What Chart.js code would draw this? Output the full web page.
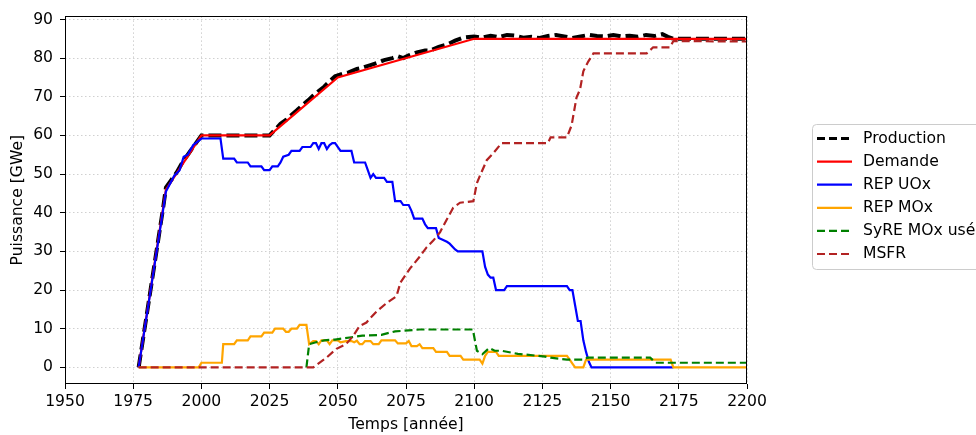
<!DOCTYPE html>
<html>
<head>
<meta charset="utf-8">
<script src="https://cdn.jsdelivr.net/npm/chart.js@4.4.1/dist/chart.umd.min.js"></script>
<style>
  body { margin: 0; background: #fff; }
  canvas { display: block; }
</style>
</head>
<body>
<canvas id="chart" width="976" height="435"></canvas>
<script>
// tick labels
const xTicks = [1950, 1975, 2000, 2025, 2050, 2075, 2100, 2125, 2150, 2175, 2200];
const yTicks = [0, 10, 20, 30, 40, 50, 60, 70, 80, 90];

// Production (black dashed)
const prodYears = [1977, 1979, 1981, 1983, 1985, 1986, 1987, 1989, 1991, 1993, 1995, 1997, 2000, 2025,
  2027, 2029, 2031, 2033, 2035, 2037, 2039, 2041, 2043, 2045, 2047, 2049, 2052, 2054, 2057, 2059, 2062,
  2065, 2067, 2070, 2072, 2074, 2076, 2079, 2082, 2084, 2087, 2090, 2093, 2096, 2100, 2103, 2106, 2109,
  2112, 2115, 2118, 2121, 2124, 2127, 2130, 2133, 2136, 2139, 2142, 2145, 2148, 2151, 2154, 2157, 2160,
  2163, 2166, 2169, 2171, 2173, 2200];
const prodValues = [0, 9.2, 18.4, 27.6, 36.8, 41.4, 46.5, 48.5, 50.5, 53, 55, 57, 60, 60,
  61.5, 63, 64, 65.3, 66.5, 67.8, 69, 70.3, 71.5, 72.6, 74, 75.3, 76, 76.3, 77.2, 77.5, 78.2,
  78.9, 79.5, 80, 80.5, 80, 80.7, 81.5, 82, 82, 82.9, 83.5, 84.5, 85.3, 85.6, 85.3, 85.8, 85.4,
  86, 85.8, 85.3, 85.5, 85.2, 85.7, 86, 85.6, 85.2, 85.6, 86, 85.7, 85.6, 86, 85.6, 85.8, 85.5,
  86, 85.7, 86.2, 85.5, 85, 85];

// Demande (red)
const demYears = [1977, 1987, 2000, 2025, 2050, 2100, 2200];
const demValues = [0, 46, 60, 60, 75, 85, 85];

// REP UOx (blue)
const uoxYears = [1977, 1987, 1990, 1992, 1993.5, 1995, 1997, 2000, 2007, 2008, 2012, 2013, 2017, 2018,
  2022, 2023, 2025, 2026, 2028, 2029, 2030, 2032, 2033, 2036, 2037, 2040, 2041, 2042, 2043, 2044, 2045,
  2046, 2047, 2048, 2049, 2051, 2055, 2056, 2060, 2061, 2062, 2063, 2064, 2067, 2068, 2070, 2071, 2073,
  2074, 2076, 2077, 2078, 2081, 2082, 2083, 2086, 2087, 2090, 2091, 2093, 2094, 2103, 2104, 2105, 2106,
  2107, 2108, 2111, 2112, 2134, 2135, 2136, 2137, 2138, 2139, 2140, 2141, 2142, 2143, 2173];
const uoxValues = [0, 45.5, 49.5, 51, 54.5, 55, 57.5, 59.2, 59.2, 54, 54, 53, 53, 52,
  52, 51, 51, 52, 52, 53, 54.5, 55, 56, 56, 57, 57, 58, 58, 56.5, 58, 58,
  56.5, 57.5, 58, 58, 56, 56, 53, 53, 51, 49, 50, 49, 49, 48, 48, 43, 43,
  42, 42, 40.5, 38.5, 38.5, 37, 36, 36, 33.5, 32.5, 32, 30.5, 30, 30, 26, 24, 23.2,
  23.2, 20, 20, 21, 21, 20, 20, 16, 12, 12, 7, 4, 1.5, 0, 0];

// REP MOx (orange)
const moxYears = [1977, 1999, 2000, 2007.5, 2008, 2012, 2013, 2017, 2018, 2022, 2023, 2026, 2027, 2030,
  2031, 2032, 2033, 2035, 2036, 2038.5, 2039.5, 2041, 2042, 2043, 2044, 2046, 2047, 2048, 2050, 2051,
  2053, 2055, 2056, 2057, 2058, 2059, 2060, 2062, 2063, 2065, 2066, 2071, 2072, 2075, 2076, 2077, 2079,
  2080, 2081, 2085, 2086, 2090, 2091, 2095, 2096, 2102, 2103, 2104, 2105, 2108, 2109, 2134, 2135, 2136,
  2137, 2140, 2141, 2172, 2173, 2200];
const moxValues = [0, 0, 1.2, 1.2, 6, 6, 7, 7, 8, 8, 9, 9, 10, 10,
  9.2, 9.2, 10, 10, 11, 11, 6, 6.8, 6.8, 6, 7, 7, 6, 7, 7, 6.5,
  6.8, 6.8, 6.5, 6.9, 6, 6, 6.8, 6.8, 6, 6, 7, 7, 6.2, 6.2, 6.8, 5.5, 5.5,
  6, 5, 5, 4, 4, 3, 3, 2, 2, 1, 3, 4, 4, 3, 3, 2, 1,
  0, 0, 2, 2, 0, 0];

// SyRE MOx usé (green dashed)
const syreYears = [2038.5, 2039.5, 2042, 2045, 2049, 2052, 2055, 2059, 2066, 2068, 2071, 2080, 2099.5,
  2101, 2103, 2105.5, 2107.5, 2110, 2116, 2126, 2128, 2134, 2140, 2141.5, 2164.5, 2166.5, 2200];
const syreValues = [0, 6, 6.5, 7, 7.2, 7.5, 7.8, 8.2, 8.4, 8.8, 9.3, 9.8, 9.8,
  4.3, 3.4, 5, 4.3, 4.3, 3.5, 2.8, 2.5, 2, 2, 2.5, 2.5, 1.2, 1.2];

// MSFR (brown dashed)
const msfrYears = [1977, 2041, 2042, 2046, 2049.5, 2053, 2055.5, 2058, 2060.5, 2062, 2064.3, 2068, 2071.5,
  2073, 2076.5, 2080, 2082.6, 2085, 2087.5, 2090, 2092.3, 2094.8, 2099.7, 2101, 2102, 2104.6, 2107, 2110,
  2127, 2128, 2134, 2135.7, 2137.5, 2138.8, 2140, 2141.8, 2143.7, 2163.2, 2165.6, 2171.8, 2173, 2200];
const msfrValues = [0, 0, 0.5, 2.6, 4.8, 6, 8, 10.7, 11.6, 12.8, 14.5, 16.7, 18.4,
  22, 25.6, 28.6, 31.1, 32.8, 35, 38.3, 41.3, 42.6, 43, 47.7, 49.4, 53.6, 55.4, 58,
  58, 59.5, 59.5, 62.6, 69.8, 71.9, 76.6, 79.1, 81.2, 81.2, 82.8, 82.8, 84.4, 84.3];

const pts = (xs, ys) => xs.map((x, i) => ({ x: x, y: ys[i] }));

const series = [
  { label: 'Production', xs: prodYears, ys: prodValues, color: '#000000', width: 4, dash: [13, 5], legendWidth: 3, legendDash: [8, 4] },
  { label: 'Demande', xs: demYears, ys: demValues, color: '#ff0000', width: 2.2, dash: [] },
  { label: 'REP UOx', xs: uoxYears, ys: uoxValues, color: '#0000ff', width: 2.2, dash: [] },
  { label: 'REP MOx', xs: moxYears, ys: moxValues, color: '#ffa500', width: 2.2, dash: [] },
  { label: 'SyRE MOx usé', xs: syreYears, ys: syreValues, color: '#008000', width: 2.2, dash: [8, 4] },
  { label: 'MSFR', xs: msfrYears, ys: msfrValues, color: '#b22222', width: 2.2, dash: [8, 4] },
];

const FONT_SIZE = 15.6;

// box around the plot
const framePlugin = {
  id: 'frame',
  afterDatasetsDraw(chart) {
    const { ctx, chartArea: a } = chart;
    ctx.save();
    ctx.strokeStyle = '#000';
    ctx.lineWidth = 1;
    ctx.strokeRect(Math.round(a.left) + 0.5, Math.round(a.top) + 0.5,
      Math.round(a.right - a.left) - 1, Math.round(a.bottom - a.top) - 1);
    ctx.restore();
  }
};

// matplotlib-like legend outside the axes
const legendPlugin = {
  id: 'mplLegend',
  afterDraw(chart) {
    const ctx = chart.ctx;
    const left = 812.5, top = 124.5, w = 180, h = 145, r = 4;
    ctx.save();
    ctx.beginPath();
    ctx.moveTo(left + r, top);
    ctx.lineTo(left + w - r, top);
    ctx.arcTo(left + w, top, left + w, top + r, r);
    ctx.lineTo(left + w, top + h - r);
    ctx.arcTo(left + w, top + h, left + w - r, top + h, r);
    ctx.lineTo(left + r, top + h);
    ctx.arcTo(left, top + h, left, top + h - r, r);
    ctx.lineTo(left, top + r);
    ctx.arcTo(left, top, left + r, top, r);
    ctx.closePath();
    ctx.fillStyle = 'rgba(255,255,255,0.8)';
    ctx.fill();
    ctx.strokeStyle = '#cccccc';
    ctx.lineWidth = 1;
    ctx.stroke();

    ctx.font = FONT_SIZE + 'px "DejaVu Sans"';
    ctx.textBaseline = 'middle';
    ctx.fillStyle = '#000';
    series.forEach((s, i) => {
      const y = 138.5 + i * 23.1;
      ctx.beginPath();
      ctx.setLineDash(s.legendDash || s.dash);
      ctx.strokeStyle = s.color;
      ctx.lineWidth = s.legendWidth || s.width;
      ctx.moveTo(817, y);
      ctx.lineTo(852, y);
      ctx.stroke();
      ctx.setLineDash([]);
      ctx.fillText(s.label, 863, y);
    });
    ctx.restore();
  }
};

Chart.defaults.font.family = '"DejaVu Sans", sans-serif';
Chart.defaults.font.size = FONT_SIZE;
Chart.defaults.color = '#000';

const gridOpts = {
  color: '#d0d0d0',
  lineWidth: 1,
  tickColor: '#000',
  tickLength: 5,
  tickWidth: 1,
  tickBorderDash: [],
};

new Chart(document.getElementById('chart'), {
  type: 'line',
  data: {
    datasets: series.map((s, i) => ({
      label: s.label,
      data: pts(s.xs, s.ys),
      borderColor: s.color,
      backgroundColor: s.color,
      borderWidth: s.width,
      borderDash: s.dash,
      pointRadius: 0,
      tension: 0,
      fill: false,
      order: series.length - i,
    })),
  },
  options: {
    responsive: false,
    animation: false,
    events: [],
    layout: { padding: { top: 11, right: 229, left: 0, bottom: 0 } },
    plugins: { legend: { display: false }, tooltip: { enabled: false } },
    scales: {
      x: {
        type: 'linear',
        min: 1950,
        max: 2200,
        afterBuildTicks: (s) => { s.ticks = xTicks.map(v => ({ value: v })); },
        afterFit: (s) => { s.height = 51; },
        ticks: { padding: 4, maxRotation: 0, autoSkip: false, callback: (v) => String(v) },
        grid: gridOpts,
        border: { display: false, dash: [1.5, 2.5] },
        title: { display: true, text: 'Temps [année]', padding: { top: 0, bottom: 1 } },
      },
      y: {
        type: 'linear',
        min: -4.3,
        max: 90.8,
        afterBuildTicks: (s) => { s.ticks = yTicks.map(v => ({ value: v })); },
        afterFit: (s) => { s.width = 65; },
        ticks: { padding: 7, callback: (v) => String(v) },
        grid: gridOpts,
        border: { display: false, dash: [1.5, 2.5] },
        title: { display: true, text: 'Puissance [GWe]', padding: { top: 9, bottom: 0 } },
      },
    },
  },
  plugins: [framePlugin, legendPlugin],
});
</script>
</body>
</html>
